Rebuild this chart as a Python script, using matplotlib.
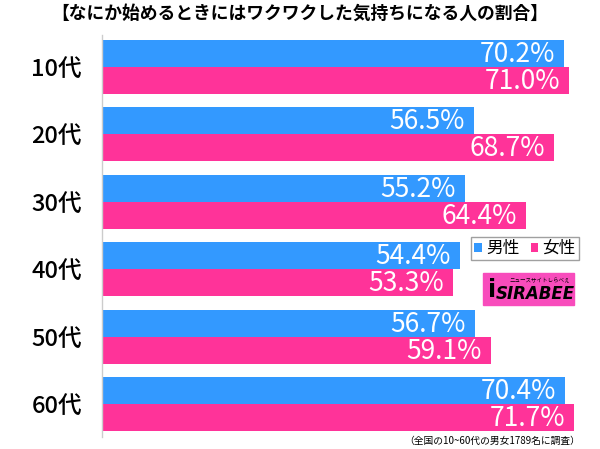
import matplotlib
matplotlib.use("Agg")
import matplotlib.pyplot as plt
from matplotlib.patches import Rectangle
import numpy as np

plt.rcParams["font.family"] = ["Noto Sans CJK JP", "DejaVu Sans"]

title = "【なにか始めるときにはワクワクした気持ちになる人の割合】"
note = "（全国の10~60代の男女1789名に調査）"
ages = ["10代", "20代", "30代", "40代", "50代", "60代"]
male = [70.2, 56.5, 55.2, 54.4, 56.7, 70.4]
female = [71.0, 68.7, 64.4, 53.3, 59.1, 71.7]
series_names = ["男性", "女性"]

BLUE = "#3399ff"
PINK = "#ff3399"

W, H = 600, 449
fig = plt.figure(figsize=(6, 4.49), dpi=100)

# axes placed in pixel coords: left 101.5, right 600, top 30, bottom 440
left, right, top, bottom = 101.5, 600, 30, 440
ax = fig.add_axes([left / W, 1 - bottom / H, (right - left) / W, (bottom - top) / H])

y = np.arange(len(ages))
h = 0.4
bm = ax.barh(y - h / 2, male, height=h, color=BLUE, label=series_names[0])
bf = ax.barh(y + h / 2, female, height=h, color=PINK, label=series_names[1])

for bars, vals in ((bm, male), (bf, female)):
    for b, v in zip(bars, vals):
        ax.text(v - 1.4, b.get_y() + b.get_height() / 2 + 0.02, f"{v:.1f}%",
                ha="right", va="center", color="white", fontsize=19)

ax.set_xlim(0, (right - left) / 6.59)
ax.set_ylim(5 + (bottom - 404) / 67.5, -(66.5 - top) / 67.5)
ax.set_yticks(y)
ax.set_yticklabels(ages, fontsize=17, fontweight="medium")
ax.tick_params(axis="y", length=0, pad=14)
ax.set_xticks([])
for s in ("top", "right", "bottom"):
    ax.spines[s].set_visible(False)
ax.spines["left"].set_color("#cccccc")
ax.spines["left"].set_linewidth(1)
ax.spines["left"].set_bounds(5 + (437 - 404) / 67.5, -(66.5 - 35) / 67.5)

fig.text(0.5, 1 - 14 / H, title, ha="center", va="center", fontsize=12.8, fontweight="bold")
fig.text(580 / W, 1 - 441 / H, note, ha="right", va="center", fontsize=7)

leg = fig.legend(handles=[bm, bf], loc="center", bbox_to_anchor=(525 / W, 1 - 248.5 / H),
                 ncol=2, fontsize=12, frameon=True, fancybox=False, handlelength=0.45,
                 handleheight=0.45, handletextpad=0.25, columnspacing=0.7,
                 borderpad=0.2, borderaxespad=0)
leg.get_frame().set_edgecolor("#888888")
leg.get_frame().set_linewidth(1)

# logo box
lx0, ly0, lx1, ly1 = 483, 273, 574, 305
fig.patches.append(Rectangle((lx0 / W, 1 - ly1 / H), (lx1 - lx0) / W, (ly1 - ly0) / H,
                             transform=fig.transFigure, color="#f84cbc", zorder=5))
fig.text(535 / W, 1 - 294 / H, "SIRABEE", ha="center", va="center", fontsize=12,
         fontweight="bold", style="italic", color="black", family="DejaVu Sans", zorder=6)
fig.text(540 / W, 1 - 281 / H, "ニュースサイトしらべぇ", ha="center", va="center",
         fontsize=4, color="black", zorder=6)
fig.text(492 / W, 1 - 290 / H, "i", ha="center", va="center", fontsize=17,
         fontweight="bold", color="black", family="DejaVu Sans", zorder=6)

fig.savefig("out.png", dpi=100)
